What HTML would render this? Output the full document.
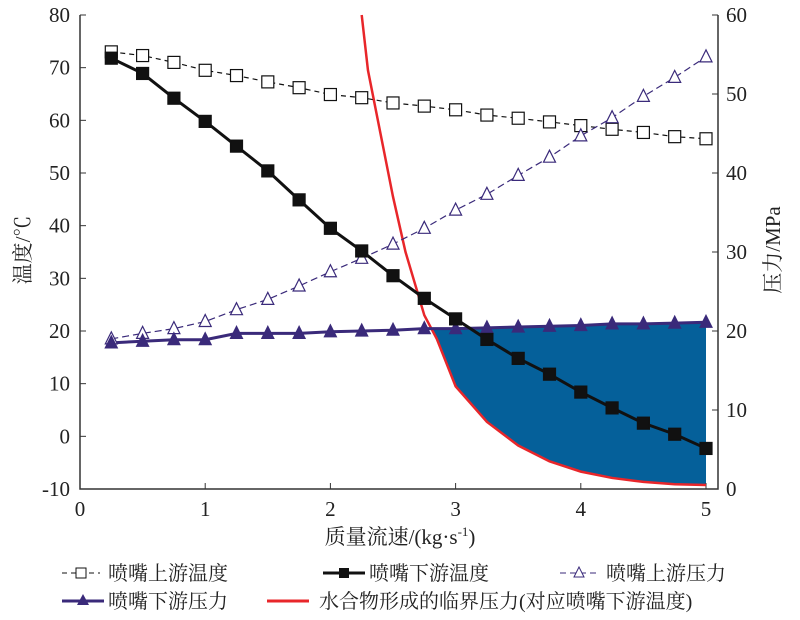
<!DOCTYPE html>
<html><head><meta charset="utf-8">
<style>
body{margin:0;background:#fff;}
svg text{font-family:"Liberation Serif","Noto Serif CJK SC",serif;fill:#222;}
</style></head>
<body>
<svg id="chart" width="800" height="615" xmlns="http://www.w3.org/2000/svg">
<g id="plot"></g>
</svg>
<script>
const xs=[0.25,0.5,0.75,1,1.25,1.5,1.75,2,2.25,2.5,2.75,3,3.25,3.5,3.75,4,4.25,4.5,4.75,5];
const upTemp=[73,72.3,71,69.5,68.5,67.3,66.2,64.9,64.3,63.3,62.7,62,61,60.4,59.7,59,58.3,57.7,56.9,56.5];
const downTemp=[71.8,68.9,64.2,59.8,55.1,50.4,44.9,39.5,35.2,30.5,26.2,22.3,18.4,14.8,11.8,8.4,5.4,2.5,0.4,-2.3];
const upPress=[19,19.7,20.3,21.2,22.7,24,25.7,27.5,29.2,31,33,35.3,37.3,39.7,42,44.7,47,49.7,52.1,54.7];
const downPress=[18.5,18.7,18.9,18.9,19.7,19.7,19.7,19.9,20,20.1,20.3,20.3,20.4,20.5,20.6,20.7,20.9,20.9,21,21.1];
const critX=[2.25,2.3,2.4,2.5,2.6,2.75,2.85,3,3.25,3.5,3.75,4,4.25,4.5,4.75,5];
const critP=[60,53,45,37,30,22,19,13,8.5,5.5,3.5,2.2,1.4,0.9,0.6,0.5];
const xTicks=[0,1,2,3,4,5];
const yLTicks=[-10,0,10,20,30,40,50,60,70,80];
const yRTicks=[0,10,20,30,40,50,60];

const X0=80,X1=706,YT=15,YB=489,XR=718;
const sx=v=>X0+(v-0)/5*(X1-X0);
const syL=v=>YB-(v+10)/90*(YB-YT);
const syR=v=>YB-v/60*(YB-YT);
const NS="http://www.w3.org/2000/svg";
const svg=document.getElementById('chart');
function mk(tag,attrs,parent){const e=document.createElementNS(NS,tag);for(const k in attrs)e.setAttribute(k,attrs[k]);(parent||svg).appendChild(e);return e;}
function txt(x,y,s,size,anchor){const t=mk('text',{x:x,y:y,'font-size':size,'text-anchor':anchor||'middle'});t.textContent=s;return t;}
function interp(ax,ay,x){for(let i=0;i<ax.length-1;i++){if(x>=ax[i]&&x<=ax[i+1]){const f=(x-ax[i])/(ax[i+1]-ax[i]);return ay[i]+f*(ay[i+1]-ay[i]);}}return x<ax[0]?ay[0]:ay[ay.length-1];}

// fill region
let upperPts=[],lowerPts=[];
for(let x=2.7;x<=5.0001;x+=0.01){const u=interp(xs,downPress,x),l=interp(critX,critP,x);if(l<=u){upperPts.push([sx(x),syR(u)]);lowerPts.push([sx(x),syR(l)]);}}
const poly=upperPts.concat(lowerPts.reverse()).map(p=>p.join(',')).join(' ');
const fill=mk('polygon',{points:poly,fill:'#05609a'});



// axes
const ax=mk('path',{d:`M${X0},${YT} V${YB} H${XR} V${YT}`,fill:'none',stroke:'#333','stroke-width':1.5});


xTicks.forEach(v=>{mk('line',{x1:sx(v),x2:sx(v),y1:YB,y2:YB-6,stroke:'#333'});const t=txt(sx(v),516,v,21);});
yLTicks.forEach(v=>{mk('line',{x1:X0,x2:X0+6,y1:syL(v),y2:syL(v),stroke:'#333'});const t=txt(X0-10,syL(v)+7,v,21,'end');});
yRTicks.forEach(v=>{mk('line',{x1:XR,x2:XR-6,y1:syR(v),y2:syR(v),stroke:'#333'});const t=txt(XR+8,syR(v)+7,v,21,'start');});
const xt=txt(400,544,'质量流速/(kg·s',21);


const sup=mk('tspan',{'font-size':13,dy:-8},xt);sup.textContent='-1';
const cl=mk('tspan',{dy:8},xt);cl.textContent=')';
const yl=txt(0,0,'温度/℃',21);yl.setAttribute('transform','translate(30,250) rotate(-90)');


const yr=txt(0,0,'压力/MPa',21);yr.setAttribute('transform','translate(780,250) rotate(-90)');



function line(ys,sy,attrs,name){const p=mk('polyline',Object.assign({points:xs.map((x,i)=>sx(x)+','+sy(ys[i])).join(' '),fill:'none'},attrs));return p;}
function sq(x,y,filled,name){const r=mk('rect',{x:x-6,y:y-6,width:12,height:12,fill:filled?'#111':'#fff',stroke:'#111','stroke-width':1.2});}
function tri(x,y,filled,name){const p=mk('polygon',{points:`${x},${y-7} ${x-6},${y+5} ${x+6},${y+5}`,fill:filled?'#3a2a7a':'#fff',stroke:'#3a2a7a','stroke-width':1.2});}

// critical curve
const cp=mk('polyline',{points:critX.map((x,i)=>sx(x)+','+syR(critP[i])).join(' '),fill:'none',stroke:'#e8262a','stroke-width':2.5});



line(upTemp,syL,{stroke:'#111','stroke-dasharray':'5,4','stroke-width':1.2},'upstream-temp-line');
line(upPress,syR,{stroke:'#3a2a7a','stroke-dasharray':'7,4','stroke-width':1.2},'upstream-pressure-line');
line(downPress,syR,{stroke:'#3a2a7a','stroke-width':3},'downstream-pressure-line');
line(downTemp,syL,{stroke:'#111','stroke-width':3},'downstream-temp-line');
xs.forEach((x,i)=>{sq(sx(x),syL(upTemp[i]),false,'upstream-temp-point');});
xs.forEach((x,i)=>{tri(sx(x),syR(upPress[i]),false,'upstream-pressure-point');});
xs.forEach((x,i)=>{tri(sx(x),syR(downPress[i]),true,'downstream-pressure-point');});
xs.forEach((x,i)=>{sq(sx(x),syL(downTemp[i]),true,'downstream-temp-point');});

// legend
function leg(x,y,kind,label,name){const g=mk('g',{});
 
 
 if(kind==='upT'){mk('line',{x1:x,x2:x+38,y1:y,y2:y,stroke:'#111','stroke-dasharray':'5,4'},g);mk('rect',{x:x+14,y:y-5,width:10,height:10,fill:'#fff',stroke:'#111'},g);}
 if(kind==='downT'){mk('line',{x1:x,x2:x+42,y1:y,y2:y,stroke:'#111','stroke-width':3},g);mk('rect',{x:x+16,y:y-5,width:10,height:10,fill:'#111'},g);}
 if(kind==='upP'){mk('line',{x1:x,x2:x+38,y1:y,y2:y,stroke:'#3a2a7a','stroke-dasharray':'6,4'},g);mk('polygon',{points:`${x+19},${y-6} ${x+14},${y+4} ${x+24},${y+4}`,fill:'#fff',stroke:'#3a2a7a'},g);}
 if(kind==='downP'){mk('line',{x1:x,x2:x+42,y1:y,y2:y,stroke:'#3a2a7a','stroke-width':3},g);mk('polygon',{points:`${x+21},${y-7} ${x+15},${y+4} ${x+27},${y+4}`,fill:'#3a2a7a'},g);}
 if(kind==='crit'){mk('line',{x1:x,x2:x+42,y1:y,y2:y,stroke:'#e8262a','stroke-width':3},g);}
 const t=mk('text',{x:x+(kind==='crit'?52:46),y:y+7,'font-size':20},g);t.textContent=label;}
leg(62,573,'upT','喷嘴上游温度','legend-upstream-temp');
leg(323,573,'downT','喷嘴下游温度','legend-downstream-temp');
leg(560,573,'upP','喷嘴上游压力','legend-upstream-pressure');
leg(62,601,'downP','喷嘴下游压力','legend-downstream-pressure');
leg(267,601,'crit','水合物形成的临界压力(对应喷嘴下游温度)','legend-critical-pressure');
</script>
</body></html>
